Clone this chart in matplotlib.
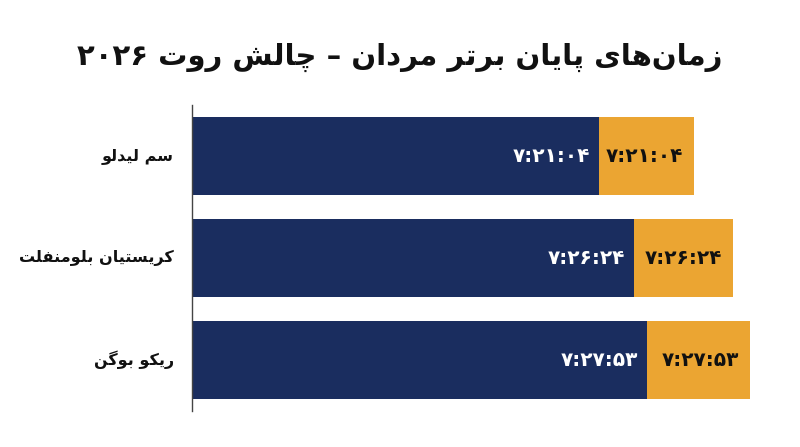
import matplotlib
matplotlib.use("Agg")
import matplotlib.pyplot as plt

# داده‌ها
names = ["سم لیدلو", "کریستیان بلومنفلت", "ریکو بوگن"]
times = ["۷:۲۱:۰۴", "۷:۲۶:۲۴", "۷:۲۷:۵۳"]
dark_len = [407, 442, 455]
light_len = [95, 99, 103]
title = "زمان‌های پایان برتر مردان – چالش روت ۲۰۲۶"

navy = "#1a2d5f"
orange = "#eba532"

# جدول شکل‌های حروف: (منفرد، پایانی، آغازی، میانی)
FORMS = {
    "ا": (0xFE8D, 0xFE8E, None, None),
    "ب": (0xFE8F, 0xFE90, 0xFE91, 0xFE92),
    "پ": (0xFB56, 0xFB57, 0xFB58, 0xFB59),
    "ت": (0xFE95, 0xFE96, 0xFE97, 0xFE98),
    "چ": (0xFB7A, 0xFB7B, 0xFB7C, 0xFB7D),
    "د": (0xFEA9, 0xFEAA, None, None),
    "ر": (0xFEAD, 0xFEAE, None, None),
    "ز": (0xFEAF, 0xFEB0, None, None),
    "س": (0xFEB1, 0xFEB2, 0xFEB3, 0xFEB4),
    "ش": (0xFEB5, 0xFEB6, 0xFEB7, 0xFEB8),
    "ف": (0xFED1, 0xFED2, 0xFED3, 0xFED4),
    "ک": (0xFB8E, 0xFB8F, 0xFB90, 0xFB91),
    "گ": (0xFB92, 0xFB93, 0xFB94, 0xFB95),
    "ل": (0xFEDD, 0xFEDE, 0xFEDF, 0xFEE0),
    "م": (0xFEE1, 0xFEE2, 0xFEE3, 0xFEE4),
    "ن": (0xFEE5, 0xFEE6, 0xFEE7, 0xFEE8),
    "و": (0xFEED, 0xFEEE, None, None),
    "ه": (0xFEE9, 0xFEEA, 0xFEEB, 0xFEEC),
    "ی": (0xFBFC, 0xFBFD, 0xFBFE, 0xFBFF),
}


def dual(c):
    return c in FORMS and FORMS[c][2] is not None


def shape(s):
    out = []
    for i, c in enumerate(s):
        if c not in FORMS:
            if c != "\u200c":
                out.append(c)
            continue
        prev = s[i - 1] if i > 0 else ""
        nxt = s[i + 1] if i + 1 < len(s) else ""
        p = dual(prev)
        n = dual(c) and nxt in FORMS
        f = FORMS[c]
        if p and n:
            out.append(chr(f[3]))
        elif p:
            out.append(chr(f[1]))
        elif n:
            out.append(chr(f[2]))
        else:
            out.append(chr(f[0]))
    # ترتیب نمایش راست به چپ، اعداد چپ به راست می‌مانند
    tokens, cur, isnum = [], "", None
    for c in out:
        d = "\u06f0" <= c <= "\u06f9" or c == ":"
        if isnum is None or d == isnum:
            cur += c
        else:
            tokens.append((cur, isnum))
            cur = c
        isnum = d
    tokens.append((cur, isnum))
    return "".join(t if d else t[::-1] for t, d in reversed(tokens))


plt.rcParams["font.family"] = ["DejaVu Sans"]
plt.rcParams["font.weight"] = "bold"

fig = plt.figure(figsize=(8, 4.47), dpi=100)
ax = fig.add_axes([192 / 800, (447 - 411) / 447, 608 / 800, 306 / 447])

y = [0, 1, 2]
ax.barh(y, dark_len, height=0.765, color=navy)
ax.barh(y, light_len, left=dark_len, height=0.765, color=orange)

for i in y:
    ax.text(dark_len[i] - 9, i, shape(times[i]), ha="right", va="center",
            color="white", fontsize=14.5, fontweight="bold")
    ax.text(dark_len[i] + light_len[i] - 11, i, shape(times[i]), ha="right",
            va="center", color="#111111", fontsize=14.5, fontweight="bold")
    ax.text(-18, i, shape(names[i]), ha="right", va="center", fontsize=11.5,
            fontweight="bold", color="#111111", clip_on=False)

ax.set_xlim(0, 608)
ax.set_ylim(2.5, -0.5)
ax.set_xticks([])
ax.set_yticks([])
for sp in ["top", "right", "bottom"]:
    ax.spines[sp].set_visible(False)
ax.spines["left"].set_color("#444444")
ax.spines["left"].set_linewidth(1)

fig.text(0.5, (447 - 57) / 447, shape(title), ha="center", va="center",
         fontsize=21, fontweight="bold", color="#111111")

fig.savefig("out.png", dpi=100, facecolor="white")
